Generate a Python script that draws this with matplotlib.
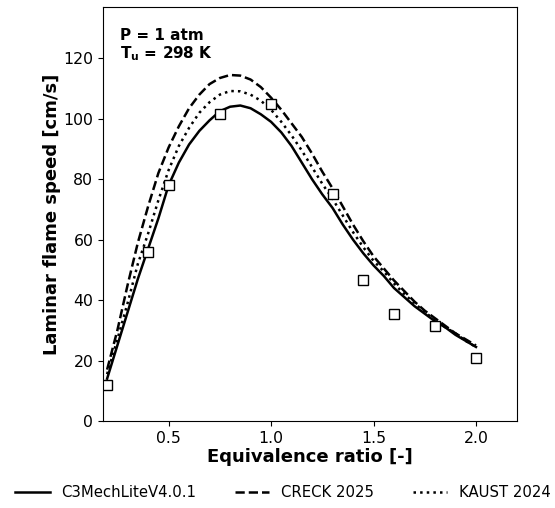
import numpy as np
import matplotlib
matplotlib.use("Agg")
from matplotlib import pyplot as plt

# equivalence ratio grid for the model curves
phi = [0.20, 0.25, 0.30, 0.35, 0.40, 0.45, 0.50, 0.55, 0.60, 0.65,
       0.70, 0.75, 0.80, 0.85, 0.90, 0.95, 1.00, 1.05, 1.10, 1.15,
       1.20, 1.25, 1.30, 1.35, 1.40, 1.45, 1.50, 1.55, 1.60, 1.65,
       1.70, 1.75, 1.80, 1.85, 1.90, 1.95, 2.00]

c3mech = [14, 25, 36, 47, 57, 67, 78, 85.5, 91.5, 96,
          99.5, 102.5, 104, 104.4, 103.5, 101.5, 99, 95.5, 91, 85.5,
          80, 75, 70.5, 65, 60, 55.5, 51.5, 48, 44, 41,
          38, 35.5, 33, 31, 28.5, 26.5, 24.5]

creck = [17, 30, 45, 59, 71, 82, 90.5, 97.5, 103.5, 108,
         111.5, 113.5, 114.5, 114.3, 113, 110.5, 107, 103, 98.5, 94,
         88.5, 82.5, 77, 71, 65, 59.5, 54.5, 50.5, 46.5, 43,
         39.5, 36.5, 34, 31.5, 29, 27, 25]

kaust = [15.5, 27, 39, 52, 62, 73, 83, 91, 97, 102,
         105.5, 108, 109.2, 109.1, 108, 106, 103, 99, 94.5, 89.5,
         84, 78.5, 73.5, 68, 62.5, 57.5, 53, 49.5, 45.5, 42,
         39, 36, 33.5, 31, 29, 26.5, 24.5]

# experimental data
phi_exp = [0.2, 0.4, 0.5, 0.75, 1.0, 1.3, 1.45, 1.6, 1.8, 2.0]
sl_exp = [12, 56, 78, 101.5, 105, 75, 46.5, 35.5, 31.5, 21]

fig = plt.figure(figsize=(5.55, 5.08), dpi=100)
ax = fig.add_axes([0.1856, 0.1713, 0.7459, 0.8149])

ax.plot(phi, c3mech, 'k-', lw=1.8, label='C3MechLiteV4.0.1')
ax.plot(phi, creck, 'k--', lw=1.8, label='CRECK 2025')
ax.plot(phi, kaust, 'k:', lw=1.8, label='KAUST 2024')
ax.plot(phi_exp, sl_exp, 's', ms=7, mfc='white', mec='black', mew=1.0, ls='none')

ax.set_xlim(0.18, 2.2)
ax.set_ylim(0, 137)
ax.set_xticks([0.5, 1.0, 1.5, 2.0])
ax.set_yticks([0, 20, 40, 60, 80, 100, 120])
ax.tick_params(labelsize=11.3)
ax.set_xlabel('Equivalence ratio [-]', fontsize=13, fontweight='bold', labelpad=2)
ax.set_ylabel('Laminar flame speed [cm/s]', fontsize=13, fontweight='bold', labelpad=2)

ax.text(0.04, 0.95, 'P = 1 atm\n$\\mathbf{T_u}$ = 298 K', transform=ax.transAxes,
        fontsize=11, fontweight='bold', va='top', ha='left', linespacing=1.1)

fig.legend(loc='center', bbox_to_anchor=(0.51, 0.03), ncol=3, frameon=False,
           fontsize=10.7, handlelength=2.3, columnspacing=2.6)

fig.savefig('out.png', dpi=100)
